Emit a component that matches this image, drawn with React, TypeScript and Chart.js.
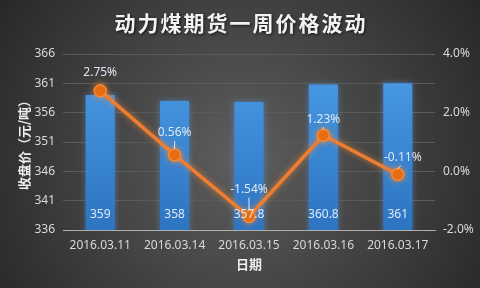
import React, { useEffect, useRef } from "react";
import { Chart, registerables } from "chart.js";

Chart.register(...registerables);

const titleText = "动力煤期货一周价格波动";
const categories = ["2016.03.11", "2016.03.14", "2016.03.15", "2016.03.16", "2016.03.17"];
const closePrices = [359, 358, 357.8, 360.8, 361];
const changePct = [2.75, 0.56, -1.54, 1.23, -0.11];
const yTitle = "收盘价（元/吨）";
const xTitle = "日期";

// label placement styling (not data): [dx, dy above point, leader line?]
const pctLabelPlacement: [number, number, boolean][] = [
  [0, 18, false],
  [0, 22, true],
  [0, 27, true],
  [0, 16, true],
  [5, 17, true],
];

const FONT = "'Noto Sans', 'Noto Sans CJK SC', sans-serif";

export default function App() {
  const ref = useRef<HTMLCanvasElement | null>(null);

  useEffect(() => {
    document.body.style.margin = "0";
    const canvas = ref.current!;
    const bgPlugin = {
      id: "bg",
      beforeDraw(chart: any) {
        const { ctx, width, height } = chart;
        ctx.save();
        const g = ctx.createRadialGradient(width / 2, height * 0.55, 10, width / 2, height * 0.55, width * 0.62);
        g.addColorStop(0, "#5c5c5c");
        g.addColorStop(1, "#262626");
        ctx.fillStyle = g;
        ctx.fillRect(0, 0, width, height);
        // title
        ctx.font = `bold 21px 'Noto Sans CJK SC', sans-serif`;
        (ctx as any).letterSpacing = "2px";
        ctx.textAlign = "center";
        ctx.textBaseline = "middle";
        ctx.shadowColor = "rgba(0,0,0,0.7)";
        ctx.shadowBlur = 3;
        ctx.shadowOffsetX = 1;
        ctx.shadowOffsetY = 1;
        ctx.fillStyle = "#f2f2f2";
        ctx.fillText(titleText, width / 2 + 1, 23);
        ctx.restore();
      },
    };
    const glowPlugin = {
      id: "glow",
      beforeDatasetDraw(chart: any, args: any) {
        const ctx = chart.ctx;
        ctx.save();
        if (args.meta.type === "bar") {
          ctx.shadowColor = "rgba(80,160,240,0.55)";
          ctx.shadowBlur = 6;
        } else {
          ctx.shadowColor = "rgba(255,140,50,0.7)";
          ctx.shadowBlur = 6;
        }
      },
      afterDatasetDraw(chart: any) {
        chart.ctx.restore();
      },
    };
    const labelPlugin = {
      id: "labels",
      afterDatasetsDraw(chart: any) {
        const ctx = chart.ctx;
        const area = chart.chartArea;
        ctx.save();
        ctx.font = `12px ${FONT}`;
        ctx.textAlign = "center";
        ctx.textBaseline = "middle";
        chart.data.datasets.forEach((ds: any, di: number) => {
          const meta = chart.getDatasetMeta(di);
          meta.data.forEach((el: any, i: number) => {
            if (meta.type === "bar") {
              ctx.fillStyle = "#dce9f7";
              ctx.fillText(String(ds.data[i]), el.x, area.bottom - 15);
            } else {
              const [dx, dy, leader] = pctLabelPlacement[i];
              const lx = el.x + dx;
              const ly = el.y - dy;
              ctx.fillStyle = "#dfe6ee";
              ctx.fillText(ds.data[i].toFixed(2) + "%", lx, ly);
              if (leader) {
                ctx.strokeStyle = "#e8e8e8";
                ctx.lineWidth = 1;
                ctx.beginPath();
                ctx.moveTo(lx - dx * 0.4, ly + 8);
                ctx.lineTo(el.x, el.y - 6);
                ctx.stroke();
              }
            }
          });
        });
        ctx.restore();
      },
    };

    const chart = new Chart(canvas, {
      type: "bar",
      data: {
        labels: categories,
        datasets: [
          {
            type: "line",
            label: "涨跌幅",
            data: changePct,
            yAxisID: "y1",
            borderColor: "#ed7d31",
            borderWidth: 3.5,
            pointRadius: 6,
            pointBackgroundColor: "#e4690e",
            pointBorderColor: "#f28a3a",
            pointBorderWidth: 1.5,
            tension: 0,
          } as any,
          {
            type: "bar",
            label: "收盘价",
            data: closePrices,
            yAxisID: "y",
            backgroundColor: (c: any) => {
              const a = c.chart.chartArea;
              if (!a) return "#3a8ad8";
              const g = c.chart.ctx.createLinearGradient(0, a.top, 0, a.bottom);
              g.addColorStop(0, "#4b9de8");
              g.addColorStop(1, "#2d74c2");
              return g;
            },
            borderWidth: 0,
            categoryPercentage: 0.78,
            barPercentage: 0.5,
          },
        ],
      },
      options: {
        animation: false,
        responsive: false,
        maintainAspectRatio: false,
        layout: { padding: { top: 54, left: 0, right: 0, bottom: 0 } },
        plugins: {
          legend: { display: false },
          tooltip: { enabled: false },
          title: { display: false },
        },
        scales: {
          x: {
            grid: { display: false, drawTicks: false },
            border: { display: true, color: "#b0b0b0", width: 1 },
            ticks: { color: "#d9d9d9", font: { size: 12, family: FONT }, padding: 8, maxRotation: 0 },
            title: {
              display: true,
              text: xTitle,
              color: "#eeeeee",
              font: { size: 13, weight: "bold", family: "'Noto Sans CJK SC', sans-serif" },
              padding: { top: 0, bottom: 16 },
            },
            afterFit(s: any) {
              s.height = 58;
            },
          },
          y: {
            position: "left",
            min: 336,
            max: 366,
            ticks: { stepSize: 5, color: "#d9d9d9", font: { size: 12, family: FONT }, padding: 8 },
            grid: { color: "#5a5a5a", lineWidth: 1, drawTicks: false },
            border: { display: false },
            title: {
              display: true,
              text: yTitle,
              color: "#eeeeee",
              font: { size: 13, weight: "bold", family: "'Noto Sans CJK SC', sans-serif" },
              padding: { top: 16, bottom: 0 },
            },
            afterFit(s: any) {
              s.width = 63;
            },
          },
          y1: {
            position: "right",
            min: -2,
            max: 4,
            ticks: {
              stepSize: 2,
              color: "#d9d9d9",
              font: { size: 12, family: FONT },
              padding: 8,
              callback: (v: any) => Number(v).toFixed(1) + "%",
            },
            grid: { display: false, drawTicks: false },
            border: { display: false },
            afterFit(s: any) {
              s.width = 45;
            },
          },
        },
      },
      plugins: [bgPlugin, glowPlugin, labelPlugin],
    });
    return () => chart.destroy();
  }, []);

  return (
    <div style={{ width: 480, height: 288 }}>
      <canvas ref={ref} width={480} height={288} style={{ display: "block" }} />
    </div>
  );
}
